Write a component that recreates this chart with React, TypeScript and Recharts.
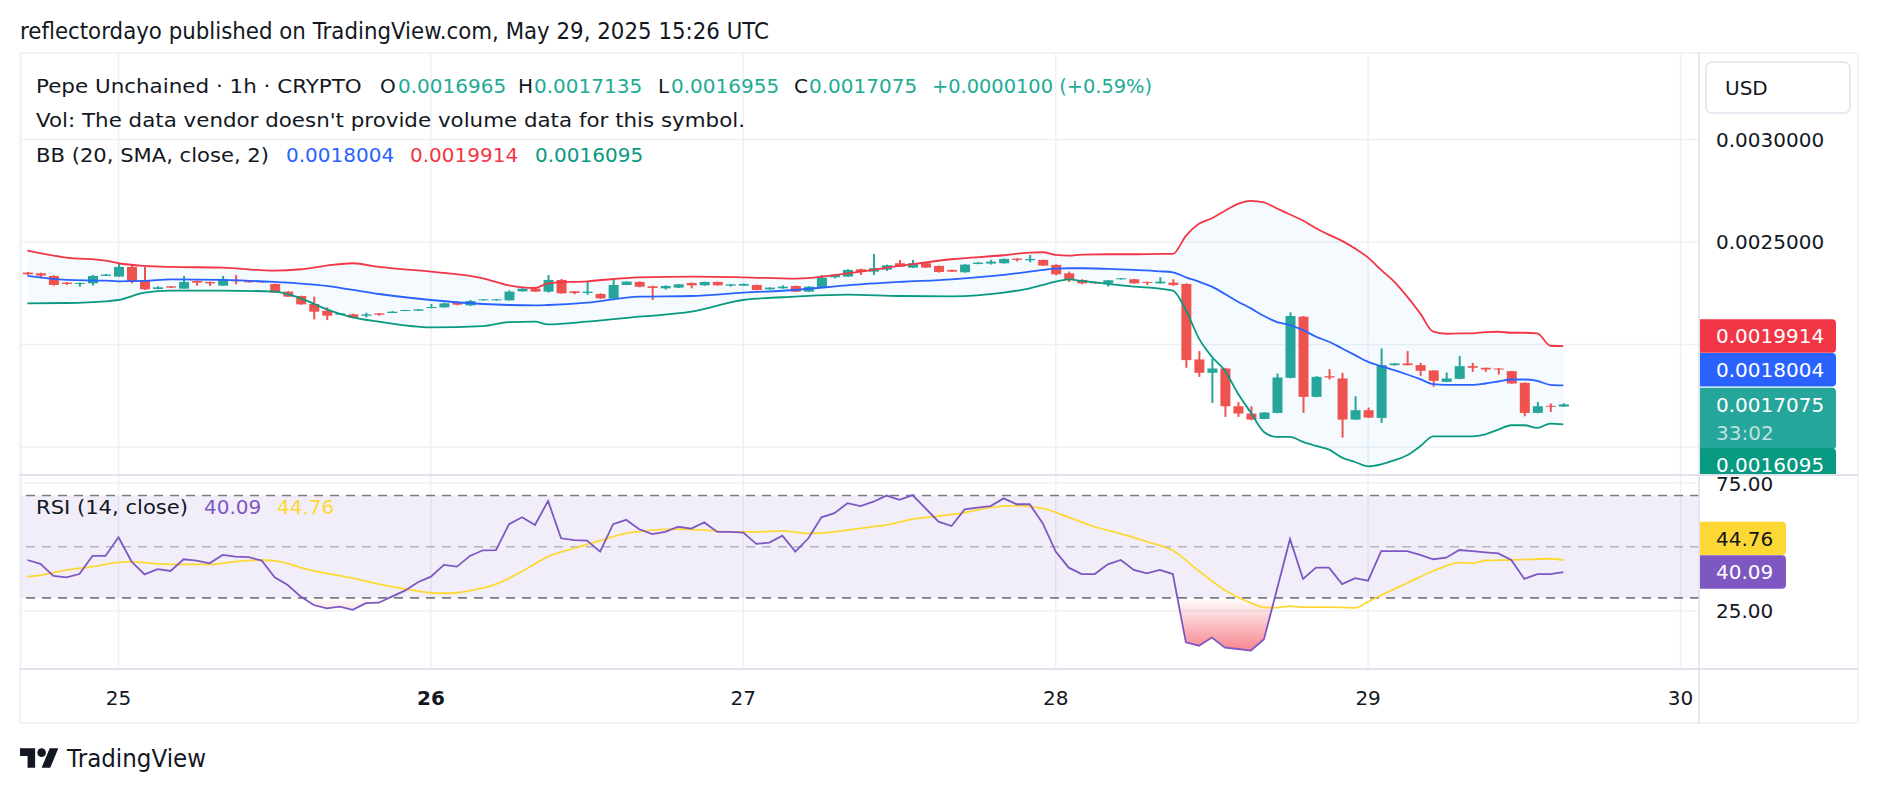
import React from 'react';
import {
  ComposedChart,
  Bar,
  Line,
  Area,
  XAxis,
  YAxis,
  CartesianGrid,
  ReferenceLine,
  ReferenceArea,
} from 'recharts';

// Pepe Unchained / USD, 1h candles. Hour 0 = May 25 00:00 UTC.
const firstHour = -7;

const opens = [
  0.0023502, 0.0023469, 0.002334, 0.0023013, 0.0022948, 0.002298, 0.002334, 0.0023308, 0.0023779, 0.0023094,
  0.0022703, 0.0022834, 0.002272, 0.0023094, 0.0023046, 0.0022866, 0.0023143, 0.0023094, 0.0023078, 0.0022948,
  0.0022573, 0.0022361, 0.002197, 0.0021644, 0.0021449, 0.0021465, 0.00214, 0.0021514, 0.002153, 0.0021628,
  0.0021644, 0.0021775, 0.0021807, 0.0022052, 0.0021905, 0.0022149, 0.0022149, 0.0022149, 0.0022589, 0.002272,
  0.0022573, 0.0023143, 0.0022589, 0.0022508, 0.0022459, 0.0022231, 0.0022899, 0.0023046, 0.0022834, 0.0022736,
  0.0022769, 0.0022997, 0.0022883, 0.0023046, 0.0022866, 0.0022866, 0.0022899, 0.0022687, 0.0022736, 0.002285,
  0.0022573, 0.0022769, 0.0023274, 0.0023308, 0.0023665, 0.0023551, 0.0023648, 0.0023958, 0.0023746, 0.0023958,
  0.0023828, 0.0023632, 0.0023518, 0.0023925, 0.0023942, 0.0023958, 0.0024186, 0.0024104, 0.0024121, 0.0023877,
  0.0023469, 0.0023143, 0.0023046, 0.002298, 0.0023176, 0.0023176, 0.0023046, 0.002298, 0.0023013, 0.0022948,
  0.0019265, 0.0018614, 0.0018825, 0.0016984, 0.0016626, 0.0016365, 0.0016658, 0.0018369, 0.0021351, 0.0017441,
  0.0018451, 0.0018337, 0.0016333, 0.0016789, 0.0016414, 0.0018988, 0.001907, 0.0018988, 0.0018728, 0.0018174,
  0.0018321, 0.001894, 0.0018858, 0.0018825, 0.0018695, 0.0018125, 0.0016658, 0.0017001, 0.0016965,
];

const highs = [
  0.0023534, 0.0023502, 0.0023371, 0.0023029, 0.0023013, 0.0023388, 0.0023437, 0.0023958, 0.0023877, 0.0023779,
  0.0022834, 0.002285, 0.002334, 0.002311, 0.0023062, 0.002334, 0.0023388, 0.002311, 0.0023094, 0.0022964,
  0.0022605, 0.0022377, 0.0022329, 0.0021807, 0.002153, 0.0021498, 0.0021547, 0.002153, 0.0021628, 0.002169,
  0.002172, 0.002197, 0.0022036, 0.0022117, 0.0022166, 0.002221, 0.002221, 0.0022638, 0.0022752, 0.0022736,
  0.0023388, 0.0023192, 0.0022605, 0.0023046, 0.0022491, 0.0023225, 0.0023078, 0.0023078, 0.0022866, 0.0022883,
  0.0022948, 0.0023013, 0.0023062, 0.0023062, 0.0022948, 0.0022964, 0.0022915, 0.0022785, 0.0022883, 0.0022866,
  0.0022834, 0.0023388, 0.002342, 0.0023665, 0.0023697, 0.0024414, 0.0023893, 0.0024121, 0.0024121, 0.0023974,
  0.0023844, 0.0023648, 0.0023909, 0.0024007, 0.0024121, 0.0024186, 0.0024202, 0.0024365, 0.0024137, 0.0023909,
  0.0023551, 0.0023176, 0.0023062, 0.0023143, 0.0023241, 0.0023192, 0.0023062, 0.0023273, 0.0023176, 0.002298,
  0.0019673, 0.0019314, 0.0018858, 0.0017196, 0.0016984, 0.001669, 0.0018581, 0.0021563, 0.0021384, 0.001845,
  0.0018793, 0.0018614, 0.0017473, 0.0016919, 0.0019803, 0.0019086, 0.0019673, 0.0019102, 0.0018745, 0.001863,
  0.0019428, 0.0019102, 0.001887, 0.001884, 0.001871, 0.001814, 0.0017196, 0.0017115, 0.0017135,
];

const lows = [
  0.0023388, 0.0023225, 0.0022866, 0.0022899, 0.0022817, 0.0022866, 0.002334, 0.0023308, 0.002298, 0.0022655,
  0.0022687, 0.0022752, 0.002272, 0.0022866, 0.002285, 0.0022866, 0.0022931, 0.0023013, 0.0023013, 0.0022508,
  0.0022312, 0.0021938, 0.0021221, 0.0021188, 0.0021449, 0.0021269, 0.0021319, 0.00214, 0.002153, 0.002162,
  0.0021635, 0.0021765, 0.0021795, 0.0021905, 0.0021873, 0.002214, 0.0022133, 0.002214, 0.002258, 0.0022557,
  0.0022524, 0.0022475, 0.0022442, 0.0022426, 0.0022214, 0.0022198, 0.002289, 0.0022785, 0.0022166, 0.0022671,
  0.0022752, 0.0022736, 0.0022866, 0.0022866, 0.0022817, 0.002285, 0.0022638, 0.0022671, 0.002272, 0.0022557,
  0.0022557, 0.0022752, 0.0023225, 0.002329, 0.0023388, 0.0023388, 0.0023583, 0.0023779, 0.002373, 0.002373,
  0.0023502, 0.0023534, 0.0023502, 0.0023909, 0.0023893, 0.0023942, 0.0024039, 0.0024007, 0.0023828, 0.0023371,
  0.0023046, 0.0022931, 0.0022964, 0.0022817, 0.002316, 0.0022964, 0.0022899, 0.0022964, 0.002285, 0.0018858,
  0.0018418, 0.0017147, 0.0016463, 0.0016463, 0.00163, 0.001635, 0.001664, 0.001835, 0.0016658, 0.001742,
  0.0018288, 0.0015452, 0.001632, 0.001641, 0.001617, 0.001897, 0.001897, 0.0018467, 0.0017929, 0.001816,
  0.00183, 0.0018663, 0.0018663, 0.0018532, 0.001808, 0.0016496, 0.001664, 0.0016707, 0.0016955,
];

const closes = [
  0.002342, 0.0023355, 0.0022899, 0.0022948, 0.0022997, 0.002334, 0.0023404, 0.0023779, 0.0023062, 0.0022687,
  0.0022785, 0.0022769, 0.0023046, 0.0023013, 0.002298, 0.0023143, 0.0023078, 0.0023029, 0.0023029, 0.0022524,
  0.0022329, 0.0021954, 0.0021595, 0.00214, 0.0021514, 0.0021302, 0.0021465, 0.0021449, 0.0021595, 0.0021677,
  0.0021709, 0.0021824, 0.0022003, 0.0021938, 0.0022117, 0.0022198, 0.0022198, 0.0022573, 0.002272, 0.0022573,
  0.0023143, 0.0022491, 0.0022508, 0.0022573, 0.0022247, 0.0022899, 0.0023062, 0.0022817, 0.0022752, 0.002285,
  0.0022931, 0.0022883, 0.0023046, 0.0022883, 0.0022931, 0.0022948, 0.0022655, 0.0022769, 0.0022817, 0.0022573,
  0.0022817, 0.0023257, 0.0023388, 0.0023632, 0.0023534, 0.0023714, 0.002386, 0.0023795, 0.0023958, 0.0023746,
  0.0023534, 0.0023551, 0.0023893, 0.0023991, 0.0024039, 0.002417, 0.0024121, 0.002417, 0.0023844, 0.002342,
  0.0023143, 0.002298, 0.002298, 0.0023127, 0.0023225, 0.002298, 0.0022997, 0.0023062, 0.0022899, 0.0019233,
  0.0018614, 0.0018825, 0.0016984, 0.0016626, 0.0016333, 0.0016675, 0.0018386, 0.0021384, 0.0017441, 0.0018418,
  0.0018386, 0.0016333, 0.0016789, 0.001643, 0.0018988, 0.001907, 0.0018988, 0.0018712, 0.0018223, 0.0018337,
  0.001894, 0.0018858, 0.0018776, 0.0018776, 0.0018093, 0.0016658, 0.0016984, 0.0016975, 0.0017075,
];

// RSI (14, close), one value per candle
const rsiValues = [
  44.8, 43.3, 38.6, 38.0, 39.3, 46.4, 46.4, 53.7, 44.2, 39.2,
  41.2, 40.5, 45.1, 44.6, 43.5, 46.8, 46.1, 45.9, 44.6, 38.0,
  35.0, 30.5, 27.2, 25.9, 26.6, 25.3, 27.9, 28.1, 30.5, 32.8,
  36.1, 38.3, 42.9, 42.2, 46.4, 48.6, 48.7, 58.8, 61.5, 58.5,
  67.9, 53.3, 52.6, 52.4, 48.1, 58.8, 60.5, 56.8, 54.9, 55.8,
  57.8, 57.1, 59.5, 55.8, 55.8, 55.5, 51.1, 51.6, 54.3, 48.1,
  53.3, 61.5, 63.1, 67.0, 65.9, 67.6, 70.0, 68.3, 70.2, 65.0,
  59.8, 58.1, 64.6, 65.3, 65.9, 68.9, 66.6, 66.6, 59.2, 48.1,
  41.8, 39.3, 39.3, 43.1, 44.8, 40.9, 39.6, 40.9, 39.3, 12.6,
  11.3, 14.5, 10.5, 10.0, 9.4, 13.8, 33.4, 53.0, 37.4, 41.8,
  41.8, 35.4, 37.7, 36.7, 48.3, 48.3, 48.3, 46.8, 45.1, 45.7,
  48.7, 48.3, 47.8, 47.4, 44.8, 37.4, 39.3, 39.3, 40.09,
];

// RSI-based moving average, read at fewer hours
const rsiMaHours = [
  -7, -6, -4, -2, 0, 1, 3, 5, 7, 9, 11, 13, 14, 16, 18, 20, 22, 24, 25, 26, 27, 29, 31, 33, 35, 37, 39, 41, 43, 45,
  47, 49, 51, 53, 55, 57, 59, 61, 63, 65, 67, 69, 71, 73, 75, 77, 79, 81, 83, 85, 87, 88, 89, 90, 91, 93, 95, 96, 97, 99,
  101, 102, 103, 104, 105, 107, 110, 111,
];
const rsiMaValues = [
  38.3, 38.8, 40.9, 42.2, 43.9, 44.2, 43.3, 43.1, 43.1, 44.2, 44.8, 43.5, 41.8, 39.6, 37.7, 35.4, 33.5, 32.0, 31.8, 32.0,
  32.8, 35.4, 40.3, 46.1, 49.4, 52.4, 55.2, 56.5, 56.9, 56.5, 55.8, 55.8, 56.2, 55.2, 55.8, 57.2, 58.5, 60.8, 62.0, 63.3,
  65.4, 66.1, 65.0, 61.5, 57.8, 55.0, 52.0, 48.5, 40.5, 33.0, 28.0, 26.3, 26.2, 26.8, 26.4, 26.4, 26.1, 28.5, 31.0, 35.8,
  40.5, 42.5, 43.8, 43.5, 44.6, 44.8, 45.3, 44.76,
];

// Bollinger Bands (20, SMA, close, 2)
const bbHours = [
  -7, -4, -1, 0, 2, 4, 8, 12, 14, 16, 18, 20, 24, 28, 30, 32, 33, 36, 40, 44, 48, 52, 56, 60, 64, 68, 70, 71, 72, 73,
  74, 76, 78, 80, 81, 82, 83, 84, 85, 86, 87, 88, 89, 90, 91, 92, 93, 94, 95, 96, 97, 98, 99, 100, 101, 102, 103, 104,
  105, 106, 107, 108, 109, 110, 111,
];
const bbUpper = [
  0.0024577, 0.0024235, 0.0024088, 0.0023958, 0.0023828, 0.0023779, 0.0023746, 0.00236, 0.0023665, 0.0023844,
  0.0023958, 0.0023779, 0.0023551, 0.0023225, 0.0022883, 0.0022752, 0.002298, 0.0023078, 0.0023274, 0.0023306,
  0.0023274, 0.0023208, 0.0023469, 0.0023828, 0.0024153, 0.0024349, 0.0024479, 0.0024496, 0.0024365, 0.0024333,
  0.0024382, 0.0024398, 0.0024398, 0.0024414, 0.0024414,
  0.0025293, 0.002588, 0.0026157, 0.0026516, 0.0026858, 0.0027005, 0.0026923, 0.002663, 0.0026336, 0.0026043,
  0.0025669, 0.0025343, 0.0025049, 0.0024675, 0.0024235, 0.0023632, 0.0023062, 0.0022328, 0.0021514, 0.0020618,
  0.002052, 0.0020536, 0.0020536, 0.0020601, 0.0020618, 0.0020569, 0.0020569, 0.0020536, 0.0019933, 0.0019914,
];
const bbBasis = [
  0.0023339, 0.0023143, 0.0023111, 0.0023078, 0.0023094, 0.0023176, 0.0023143, 0.0023046, 0.0022964, 0.002285,
  0.0022655, 0.0022459, 0.0022166, 0.002197, 0.0021922, 0.0021905, 0.0021922, 0.0022035, 0.002233, 0.0022361,
  0.0022524, 0.0022654, 0.0022883, 0.0023046, 0.0023176, 0.0023388, 0.0023551, 0.0023632, 0.0023697, 0.0023714,
  0.0023714, 0.0023681, 0.0023632, 0.0023567, 0.0023518,
  0.0023274, 0.0023062, 0.0022817, 0.0022459, 0.0022084, 0.0021758, 0.0021384, 0.002109, 0.0020944, 0.0020699,
  0.0020373, 0.0020129, 0.0019803, 0.0019477, 0.0019151, 0.001894, 0.0018744, 0.0018532, 0.0018304, 0.001806,
  0.0018027, 0.0018027, 0.0018027, 0.0018093, 0.001819, 0.0018288, 0.0018288, 0.0018223, 0.0018027, 0.0018004,
];
const bbLower = [
  0.0022003, 0.0022019, 0.0022101, 0.0022166, 0.0022524, 0.0022622, 0.0022622, 0.0022573, 0.0022247, 0.002171,
  0.0021319, 0.0021107, 0.002083, 0.0020895, 0.002109, 0.0021107, 0.0020976, 0.0021107, 0.0021351, 0.0021595,
  0.0022166, 0.0022329, 0.0022426, 0.0022361, 0.0022345, 0.0022524, 0.0022736, 0.0022899, 0.0023062, 0.0023176,
  0.0023094, 0.0022948, 0.0022817, 0.002272, 0.0022622,
  0.0021677, 0.0020292, 0.0019395, 0.0018712, 0.0017604, 0.0016658, 0.001573, 0.0015485, 0.0015485, 0.0015241,
  0.0015046, 0.0014866, 0.0014475, 0.0014263, 0.0014051, 0.0014149, 0.0014345, 0.0014589, 0.0015029, 0.0015518,
  0.0015518, 0.0015518, 0.0015518, 0.0015616, 0.0015844, 0.0016056, 0.0016056, 0.0015925, 0.0016137, 0.0016095,
];

const dayTicks = [0, 24, 48, 72, 96, 120];
const dayLabels = ['25', '26', '27', '28', '29', '30'];
const boldDays = ['26'];
const priceTicks = [0.0015, 0.002, 0.0025, 0.003];
const labelledPriceTicks = [0.0025, 0.003]; // the others sit under the value tags
const rsiTicks = [25, 75];
const countdown = '33:02';

// layout
const FONT = "'DejaVu Sans', sans-serif";
const TEXT = '#131722';
const UP = '#26A69A';
const DOWN = '#EF5350';
const GRID = '#EEF0F5';
const LEGEND_GREEN = '#22AB94';
const CHART_W = 1838;
const AXIS_W = 160;
const MAIN_H = 422;
const RSI_PLOT_H = 194;
const TIME_AXIS_H = 54;
const X_DOMAIN: [number, number] = [-7.49, 121.42];
const PRICE_DOMAIN: [number, number] = [0.0013629, 0.0034215];
const RSI_DOMAIN: [number, number] = [2.18, 78.04];

const candles = opens.map((open, i) => ({
  hour: firstHour + i,
  open,
  high: highs[i],
  low: lows[i],
  close: closes[i],
  rsi: rsiValues[i],
}));
const bbRows = bbHours.map((hour, i) => ({
  hour,
  upper: bbUpper[i],
  basis: bbBasis[i],
  lower: bbLower[i],
  band: [bbLower[i], bbUpper[i]],
}));
const rsiMaRows = rsiMaHours.map((hour, i) => ({ hour, ma: rsiMaValues[i] }));

const last = candles[candles.length - 1];
const prev = candles[candles.length - 2];
const change = last.close - prev.close;
const changePct = (change / prev.close) * 100;
const lastUpper = bbUpper[bbUpper.length - 1];
const lastBasis = bbBasis[bbBasis.length - 1];
const lastLower = bbLower[bbLower.length - 1];
const lastRsi = rsiValues[rsiValues.length - 1];
const lastRsiMa = rsiMaValues[rsiMaValues.length - 1];

const rsiY = (r: number) => ((RSI_DOMAIN[1] - r) / (RSI_DOMAIN[1] - RSI_DOMAIN[0])) * RSI_PLOT_H;

const CandleShape = (props: any) => {
  const { x, y, width, height, payload } = props;
  if (!payload) return null;
  const top = height >= 0 ? y : y + height;
  const h = Math.abs(height);
  const range = payload.high - payload.low;
  const k = range > 0 ? h / range : 0;
  const color = payload.close >= payload.open ? UP : DOWN;
  const bodyTop = top + (payload.high - Math.max(payload.open, payload.close)) * k;
  const bodyH = Math.max(1, Math.abs(payload.close - payload.open) * k);
  const cx = x + width / 2;
  return (
    <g>
      <line x1={cx} x2={cx} y1={top} y2={top + h} stroke={color} strokeWidth={2} />
      <rect x={x} y={bodyTop} width={width} height={bodyH} fill={color} />
    </g>
  );
};

const Tag = (props: any) => {
  const { viewBox, text, sub, bg, fg, shift = 0, w = 136 } = props;
  if (!viewBox) return null;
  const left = viewBox.x + viewBox.width + 1;
  const mid = viewBox.y + shift;
  const top = mid - 16.7;
  const h = sub ? 61.6 : 33.4;
  const r = 4;
  const right = left + w;
  const bottom = top + h;
  const d = `M${left},${top}H${right - r}Q${right},${top} ${right},${top + r}V${bottom - r}Q${right},${bottom} ${right - r},${bottom}H${left}Z`;
  return (
    <g>
      <path d={d} fill={bg} />
      <text x={left + 16} y={mid} dy="0.36em" fill={fg} fontSize={20} fontFamily={FONT}>
        {text}
      </text>
      {sub && (
        <text x={left + 16} y={mid + 28} dy="0.36em" fill={fg} fillOpacity={0.7} fontSize={20} fontFamily={FONT}>
          {sub}
        </text>
      )}
    </g>
  );
};

const PriceTick = (props: any) => {
  const { x, y, payload } = props;
  if (!labelledPriceTicks.includes(payload.value)) return <g />;
  return (
    <text x={x} y={y} dy="0.36em" fill={TEXT} fontSize={20} fontFamily={FONT}>
      {payload.value.toFixed(7)}
    </text>
  );
};

const RsiTick = (props: any) => {
  const { x, y, payload } = props;
  return (
    <text x={x} y={y} dy="0.36em" fill={TEXT} fontSize={20} fontFamily={FONT}>
      {payload.value.toFixed(2)}
    </text>
  );
};

const DayTick = (props: any) => {
  const { x, y, payload } = props;
  const label = dayLabels[dayTicks.indexOf(payload.value)];
  return (
    <text
      x={x}
      y={y}
      dy="0.36em"
      textAnchor="middle"
      fill={TEXT}
      fontSize={20}
      fontFamily={FONT}
      fontWeight={boldDays.includes(label) ? 700 : 400}
    >
      {label}
    </text>
  );
};

const PriceChart = () => (
  <ComposedChart width={CHART_W} height={MAIN_H} data={candles} margin={{ top: 0, right: 0, bottom: 0, left: 0 }}>
    <CartesianGrid stroke={GRID} strokeWidth={1.5} />
    <XAxis dataKey="hour" type="number" domain={X_DOMAIN} ticks={dayTicks} allowDataOverflow hide />
    <YAxis
      orientation="right"
      width={AXIS_W}
      domain={PRICE_DOMAIN}
      ticks={priceTicks}
      allowDataOverflow
      axisLine={false}
      tickLine={false}
      tickSize={0}
      tickMargin={17}
      tick={<PriceTick />}
    />
    <Area
      data={bbRows}
      dataKey="band"
      type="monotone"
      fill="#2196F3"
      fillOpacity={0.05}
      stroke="none"
      isAnimationActive={false}
    />
    <Line data={bbRows} dataKey="upper" type="monotone" stroke="#F23645" strokeWidth={1.8} dot={false} activeDot={false} isAnimationActive={false} />
    <Line data={bbRows} dataKey="basis" type="monotone" stroke="#2962FF" strokeWidth={1.8} dot={false} activeDot={false} isAnimationActive={false} />
    <Line data={bbRows} dataKey="lower" type="monotone" stroke="#089981" strokeWidth={1.8} dot={false} activeDot={false} isAnimationActive={false} />
    <Bar
      dataKey={(d: any) => [d.low, d.high]}
      barSize={10}
      shape={(p: any) => <CandleShape {...p} />}
      isAnimationActive={false}
    />
    <ReferenceLine y={lastUpper} stroke="none" label={<Tag text={lastUpper.toFixed(7)} bg="#F23645" fg="#FFFFFF" shift={-10.2} />} />
    <ReferenceLine y={lastBasis} stroke="none" label={<Tag text={lastBasis.toFixed(7)} bg="#2962FF" fg="#FFFFFF" shift={-15.6} />} />
    <ReferenceLine y={last.close} stroke="none" label={<Tag text={last.close.toFixed(7)} sub={countdown} bg={UP} fg="#FFFFFF" shift={0} />} />
    <ReferenceLine y={lastLower} stroke="none" label={<Tag text={lastLower.toFixed(7)} bg="#089981" fg="#FFFFFF" shift={40.5} />} />
  </ComposedChart>
);

const RsiChart = () => (
  <ComposedChart
    width={CHART_W}
    height={RSI_PLOT_H + TIME_AXIS_H}
    data={candles}
    margin={{ top: 0, right: 0, bottom: 0, left: 0 }}
  >
    <defs>
      <linearGradient id="oversoldFill" gradientUnits="userSpaceOnUse" x1={0} x2={0} y1={rsiY(30)} y2={rsiY(8)}>
        <stop offset="0" stopColor="#F23645" stopOpacity={0} />
        <stop offset="1" stopColor="#F23645" stopOpacity={0.65} />
      </linearGradient>
    </defs>
    <CartesianGrid stroke={GRID} strokeWidth={1.5} />
    <XAxis
      dataKey="hour"
      type="number"
      domain={X_DOMAIN}
      ticks={dayTicks}
      allowDataOverflow
      height={TIME_AXIS_H}
      axisLine={false}
      tickLine={false}
      tickSize={0}
      tickMargin={29}
      tick={<DayTick />}
    />
    <YAxis
      orientation="right"
      width={AXIS_W}
      domain={RSI_DOMAIN}
      ticks={rsiTicks}
      allowDataOverflow
      axisLine={false}
      tickLine={false}
      tickSize={0}
      tickMargin={17}
      tick={<RsiTick />}
    />
    <ReferenceArea y1={30} y2={70} fill="#7E57C2" fillOpacity={0.1} stroke="none" />
    <ReferenceLine y={70} stroke="#787B86" strokeWidth={1.6} strokeDasharray="9 7" />
    <ReferenceLine y={50} stroke="#787B86" strokeOpacity={0.5} strokeWidth={1.6} strokeDasharray="9 7" />
    <ReferenceLine y={30} stroke="#787B86" strokeWidth={1.6} strokeDasharray="9 7" />
    <Area dataKey="rsi" baseValue={30} type="linear" fill="url(#oversoldFill)" fillOpacity={1} stroke="none" isAnimationActive={false} />
    <Line data={rsiMaRows} dataKey="ma" type="monotone" stroke="#FDD835" strokeWidth={1.8} dot={false} activeDot={false} isAnimationActive={false} />
    <Line dataKey="rsi" type="linear" stroke="#7E57C2" strokeWidth={1.8} dot={false} activeDot={false} isAnimationActive={false} />
    <ReferenceLine y={lastRsiMa} stroke="none" label={<Tag text={lastRsiMa.toFixed(2)} bg="#FDD835" fg={TEXT} shift={-21.7} w={86} />} />
    <ReferenceLine y={lastRsi} stroke="none" label={<Tag text={lastRsi.toFixed(2)} bg="#7E57C2" fg="#FFFFFF" shift={0} w={86} />} />
  </ComposedChart>
);

const Overlay = () => (
  <svg width={1878} height={794} style={{ position: 'absolute', left: 0, top: 0, pointerEvents: 'none' }}>
    {/* frame */}
    <g fill="none">
      <line x1={20} x2={1858} y1={53} y2={53} stroke="#F0F3FA" strokeWidth={2} />
      <line x1={20} x2={20} y1={53} y2={723} stroke="#F0F3FA" strokeWidth={2} />
      <line x1={1858} x2={1858} y1={53} y2={723} stroke="#F0F3FA" strokeWidth={2} />
      <line x1={20} x2={1858} y1={723} y2={723} stroke="#F0F3FA" strokeWidth={2} />
      <line x1={20} x2={1858} y1={475} y2={475} stroke="#E0E3EB" strokeWidth={2} />
      <line x1={20} x2={1858} y1={669} y2={669} stroke="#E0E3EB" strokeWidth={2} />
      <line x1={1699} x2={1699} y1={53} y2={723} stroke="#E0E3EB" strokeWidth={1.5} />
    </g>

    <text x={20} y={39.3} fontSize={23} fontFamily={FONT} fill={TEXT} textLength={749} lengthAdjust="spacingAndGlyphs">
      reflectordayo published on TradingView.com, May 29, 2025 15:26 UTC
    </text>

    <g fontFamily={FONT} fontSize={20}>
      <text x={36} y={92.7} fill={TEXT} textLength={325.7} lengthAdjust="spacingAndGlyphs">
        Pepe Unchained · 1h · CRYPTO
      </text>
      <text x={380} y={92.7} fill={TEXT}>O</text>
      <text x={398} y={92.7} fill={LEGEND_GREEN}>{last.open.toFixed(7)}</text>
      <text x={518} y={92.7} fill={TEXT}>H</text>
      <text x={534} y={92.7} fill={LEGEND_GREEN}>{last.high.toFixed(7)}</text>
      <text x={658} y={92.7} fill={TEXT}>L</text>
      <text x={671} y={92.7} fill={LEGEND_GREEN}>{last.low.toFixed(7)}</text>
      <text x={794} y={92.7} fill={TEXT}>C</text>
      <text x={809} y={92.7} fill={LEGEND_GREEN}>{last.close.toFixed(7)}</text>
      <text x={932} y={92.7} fill={LEGEND_GREEN} textLength={220} lengthAdjust="spacingAndGlyphs">
        {`${change >= 0 ? '+' : ''}${change.toFixed(7)} (${change >= 0 ? '+' : ''}${changePct.toFixed(2)}%)`}
      </text>

      <text x={36} y={127.3} fill={TEXT} textLength={709} lengthAdjust="spacingAndGlyphs">
        Vol: The data vendor doesn't provide volume data for this symbol.
      </text>

      <text x={36} y={162} fill={TEXT} textLength={233} lengthAdjust="spacingAndGlyphs">
        BB (20, SMA, close, 2)
      </text>
      <text x={286} y={162} fill="#2962FF">{lastBasis.toFixed(7)}</text>
      <text x={410} y={162} fill="#F23645">{lastUpper.toFixed(7)}</text>
      <text x={535} y={162} fill="#089981">{lastLower.toFixed(7)}</text>

      <text x={36} y={514} fill={TEXT} textLength={152} lengthAdjust="spacingAndGlyphs">
        RSI (14, close)
      </text>
      <text x={204} y={514} fill="#7E57C2">{lastRsi.toFixed(2)}</text>
      <text x={277} y={514} fill="#FDD835">{lastRsiMa.toFixed(2)}</text>
    </g>

    {/* currency button */}
    <rect x={1706} y={62} width={144} height={51} rx={6} fill="#FFFFFF" stroke="#E0E3EB" strokeWidth={1.5} />
    <text x={1725} y={87.3} dy="0.36em" fontSize={20} fontFamily={FONT} fill={TEXT}>
      USD
    </text>

    {/* TradingView logo */}
    <g transform="translate(20,744) scale(1.08)" fill={TEXT}>
      <path d="M14 22H7V11H0V4h14v18Z" />
      <circle cx={20} cy={8} r={4} />
      <path d="M28 22h-8l7.5-18h8L28 22Z" />
    </g>
    <text x={67} y={766.7} fontSize={24} fontFamily={FONT} fill={TEXT} textLength={139} lengthAdjust="spacingAndGlyphs">
      TradingView
    </text>
  </svg>
);

const App = () => (
  <div
    style={{
      position: 'absolute',
      left: 0,
      top: 0,
      width: 1878,
      height: 794,
      background: '#FFFFFF',
      fontFamily: FONT,
      overflow: 'hidden',
    }}
  >
    <div style={{ position: 'absolute', left: 21, top: 53 }}>
      <PriceChart />
    </div>
    <div style={{ position: 'absolute', left: 21, top: 475 }}>
      <RsiChart />
    </div>
    <Overlay />
  </div>
);

export default App;
